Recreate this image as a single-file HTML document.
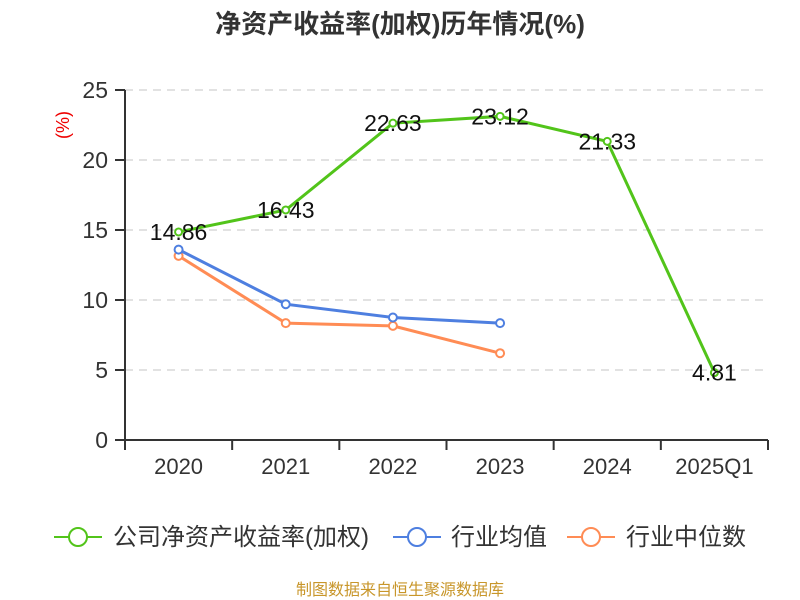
<!DOCTYPE html>
<html><head><meta charset="utf-8"><style>
body{margin:0;background:#fff;}
svg{display:block;font-family:"Liberation Sans","Noto Sans CJK SC",sans-serif;}
</style></head><body>
<svg id="chart" width="800" height="600">
<text x="400" y="33" text-anchor="middle" font-size="26" font-weight="bold" fill="#333">净资产收益率(加权)历年情况(%)</text>
<text transform="translate(69,125) rotate(-90)" text-anchor="middle" font-size="18" fill="#e00">(%)</text>
<g id="grid"></g><g id="axes"></g><g id="series"></g>
<g>
<g><line x1="54" y1="537" x2="102" y2="537" stroke="#52c41a" stroke-width="2"/><circle cx="78" cy="537" r="9" fill="#fff" stroke="#52c41a" stroke-width="2"/><text x="113" y="545" font-size="24" fill="#333">公司净资产收益率(加权)</text></g>
<g><line x1="393" y1="537" x2="441" y2="537" stroke="#4e7fe0" stroke-width="2"/><circle cx="417" cy="537" r="9" fill="#fff" stroke="#4e7fe0" stroke-width="2"/><text x="451" y="545" font-size="24" fill="#333">行业均值</text></g>
<g><line x1="567" y1="537" x2="615" y2="537" stroke="#ff8c55" stroke-width="2"/><circle cx="591" cy="537" r="9" fill="#fff" stroke="#ff8c55" stroke-width="2"/><text x="626" y="545" font-size="24" fill="#333">行业中位数</text></g>
</g>
<text x="400" y="595" text-anchor="middle" font-size="16" fill="#c8962a">制图数据来自恒生聚源数据库</text>
</svg>
<script>
const categories=["2020","2021","2022","2023","2024","2025Q1"];
const roeValues=[14.86,16.43,22.63,23.12,21.33,4.81];
const avgValues=[13.6,9.7,8.75,8.35];
const medianValues=[13.15,8.35,8.15,6.2];
const yTicks=[0,5,10,15,20,25];
const NS="http://www.w3.org/2000/svg";
const x0=125,x1=768,yb=440,yt=90,ymax=25;
const bw=(x1-x0)/categories.length;
const xs=i=>x0+bw*(i+0.5);
const ys=v=>yb-(v/ymax)*(yb-yt);
function mk(p,t,a){const e=document.createElementNS(NS,t);for(const k in a)e.setAttribute(k,a[k]);p.appendChild(e);return e;}
const grid=document.getElementById('grid'),axes=document.getElementById('axes'),ser=document.getElementById('series');
yTicks.forEach(v=>{
 if(v>0){const g=mk(grid,'line',{x1:x0,x2:x1,y1:ys(v),y2:ys(v),stroke:'#c4c4c4','stroke-dasharray':'8,6'});
 
 }
 mk(axes,'line',{x1:x0-10,x2:x0,y1:ys(v),y2:ys(v),stroke:'#333','stroke-width':2});
 const t=mk(axes,'text',{x:x0-17,y:ys(v)+8,'text-anchor':'end','font-size':23,fill:'#333'});t.textContent=v;
 
 
});
mk(axes,'line',{x1:x0,x2:x0,y1:yt,y2:yb,stroke:'#333','stroke-width':2});
mk(axes,'line',{x1:x0,x2:x1,y1:yb,y2:yb,stroke:'#333','stroke-width':2});
for(let i=0;i<=categories.length;i++)mk(axes,'line',{x1:x0+bw*i,x2:x0+bw*i,y1:yb,y2:yb+10,stroke:'#333','stroke-width':2});
categories.forEach((c,i)=>{const t=mk(axes,'text',{x:xs(i),y:474,'text-anchor':'middle','font-size':22,fill:'#333'});t.textContent=c;
 
 });
function series(vals,color,name,r,labels){
 const l=mk(ser,'polyline',{points:vals.map((v,i)=>xs(i)+','+ys(v)).join(' '),fill:'none',stroke:color,'stroke-width':3});
 
 
 vals.forEach((v,i)=>{const c=mk(ser,'circle',{cx:xs(i),cy:ys(v),r:r,fill:'#fff',stroke:color,'stroke-width':2});
  
  
  if(labels){const t=mk(ser,'text',{x:xs(i),y:ys(v)+8,'text-anchor':'middle','font-size':23,fill:'#111'});t.textContent=v.toFixed(2);
  
  }});
}
series(medianValues,'#ff8c55','industry-median',4,false);
series(avgValues,'#4e7fe0','industry-avg',4,false);
series(roeValues,'#52c41a','roe',3.5,true);
</script>
</body></html>
